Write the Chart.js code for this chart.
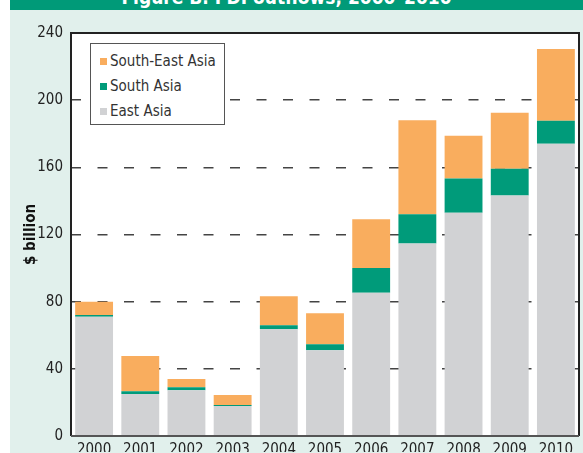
<!DOCTYPE html>
<html>
<head>
<meta charset="utf-8">
<script src="https://cdn.jsdelivr.net/npm/chart.js@4"></script>
<style>
  html, body { margin: 0; padding: 0; background: #fff; }
  body { width: 583px; height: 453px; position: relative; overflow: hidden;
         font-family: "Liberation Sans Narrow", "DejaVu Sans Condensed", "Liberation Sans", sans-serif; }
  #head { position: absolute; left: 10px; top: 0; width: 573px; height: 10px; background: #009a78; overflow: hidden; }
  #head span { position: absolute; left: 0; width: 100%; top: -12px; text-align: center; color: #fff;
               font-weight: bold; font-size: 19px; line-height: 19px; padding-right: 20px; box-sizing: border-box; }
  #panel { position: absolute; left: 10px; top: 10px; width: 573px; height: 443px; background: #e1f0ec; }
  #legend { position: absolute; left: 90px; top: 43px; width: 135px; height: 82px; background: #fff;
            border: 1px solid #555; box-sizing: border-box; padding-top: 5px; }
  #legend div { height: 25px; line-height: 24px; font-size: 15px; color: #333; white-space: nowrap; }
  #legend i { display: inline-block; width: 7px; height: 7px; margin: 0 3px 0 9px; vertical-align: 1px; }
</style>
</head>
<body>
<div id="head"><span>Figure B. FDI outflows, 2000–2010</span></div>
<div id="panel"><canvas id="chart" width="573" height="443"></canvas></div>
<div id="legend"></div>
<script>
const years = ['2000', '2001', '2002', '2003', '2004', '2005', '2006', '2007', '2008', '2009', '2010'];
const eastAsia = [71, 25, 27.3, 17.8, 63.6, 51, 85.3, 114.6, 133, 143.2, 174];
const southAsia = [1, 1.7, 1.8, 0.6, 2.4, 3.6, 14.8, 17.4, 20.3, 16, 13.8];
const southEastAsia = [8, 21, 4.8, 6, 17.2, 18.5, 29, 56, 25.5, 33.3, 42.7];

const grey = '#d1d2d4';
const green = '#009b7a';
const orange = '#f9ad5e';
const font = '"Liberation Sans Narrow", "DejaVu Sans Condensed", "Liberation Sans", sans-serif';

// white plot area and the black frame round it
const frame = {
  id: 'frame',
  beforeDraw(chart) {
    const a = chart.chartArea;
    chart.ctx.save();
    chart.ctx.fillStyle = '#fff';
    chart.ctx.fillRect(a.left, a.top, a.right - a.left, a.bottom - a.top);
    chart.ctx.restore();
  },
  afterDatasetsDraw(chart) {
    const a = chart.chartArea;
    const c = chart.ctx;
    c.save();
    c.strokeStyle = '#222';
    c.lineWidth = 2;
    c.beginPath();
    c.moveTo(a.left, a.bottom);
    c.lineTo(a.left, a.top);
    c.lineTo(a.right, a.top);
    c.lineTo(a.right, a.bottom);
    c.stroke();
    c.strokeStyle = '#555';
    c.beginPath();
    c.moveTo(a.left, a.bottom);
    c.lineTo(a.right, a.bottom);
    c.stroke();
    c.restore();
  }
};

const chart = new Chart(document.getElementById('chart'), {
  type: 'bar',
  data: {
    labels: years,
    datasets: [
      { label: 'East Asia', data: eastAsia, backgroundColor: grey },
      { label: 'South Asia', data: southAsia, backgroundColor: green },
      { label: 'South-East Asia', data: southEastAsia, backgroundColor: orange }
    ]
  },
  options: {
    responsive: false,
    animation: false,
    layout: { padding: { top: 23, right: 4, left: 0, bottom: 0 } },
    datasets: { bar: { categoryPercentage: 1, barPercentage: 0.82 } },
    plugins: { legend: { display: false }, tooltip: { enabled: false } },
    scales: {
      x: {
        stacked: true,
        grid: { display: false, drawTicks: false },
        border: { display: false },
        ticks: { color: '#222', padding: 5, font: { family: font, size: 15 } },
        afterFit(s) { s.height = 16; }
      },
      y: {
        stacked: true,
        min: 0,
        max: 240,
        ticks: { stepSize: 40, color: '#222', padding: 8, font: { family: font, size: 15 } },
        grid: {
          drawTicks: false,
          color: (ctx) => (ctx.tick && (ctx.tick.value === 0 || ctx.tick.value === 240)) ? 'rgba(0,0,0,0)' : '#444',
          lineWidth: 1.5
        },
        border: { display: false, dash: [10, 16.5] },
        title: { display: true, text: '$ billion', color: '#111', padding: { top: 12, bottom: 0 },
                 font: { family: font, size: 15, weight: 'bold' } },
        afterFit(s) { s.width = 61; }
      }
    }
  },
  plugins: [frame]
});

// legend in the plot, top entry first
const legend = document.getElementById('legend');
chart.data.datasets.slice().reverse().forEach(ds => {
  const row = document.createElement('div');
  const sw = document.createElement('i');
  sw.style.background = ds.backgroundColor;
  row.appendChild(sw);
  row.appendChild(document.createTextNode(ds.label));
  legend.appendChild(row);
});
</script>
</body>
</html>
